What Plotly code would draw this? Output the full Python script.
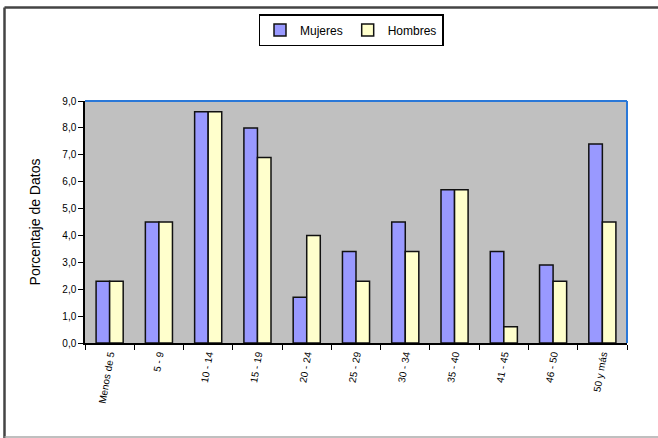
import plotly.graph_objects as go

# Age groups and share of records (%) by sex
categorias = ["Menos de 5", "5 - 9", "10 - 14", "15 - 19", "20 - 24", "25 - 29",
              "30 - 34", "35 - 40", "41 - 45", "46 - 50", "50 y más"]
mujeres = [2.3, 4.5, 8.6, 8.0, 1.7, 3.4, 4.5, 5.7, 3.4, 2.9, 7.4]
hombres = [2.3, 4.5, 8.6, 6.9, 4.0, 2.3, 3.4, 5.7, 0.6, 2.3, 4.5]
y_ticks = [0, 1, 2, 3, 4, 5, 6, 7, 8, 9]
y_tick_text = [f"{v:.1f}".replace(".", ",") for v in y_ticks]

W, H = 658, 438
L, R, T, B = 85, 31, 101, 95
pw, ph = W - L - R, H - T - B


def px_x(px):
    return (px - L) / pw


def px_y(py):
    return (H - B - py) / ph


font = "Liberation Sans, Arial, sans-serif"

fig = go.Figure()
fig.add_trace(go.Bar(name="Mujeres", x=categorias, y=mujeres,
                     marker=dict(color="#9999FF", line=dict(color="#111111", width=1.5))))
fig.add_trace(go.Bar(name="Hombres", x=categorias, y=hombres,
                     marker=dict(color="#FFFFCC", line=dict(color="#111111", width=1.5))))

shapes = [
    # blue top and right edges of the plot area
    dict(type="line", xref="paper", yref="paper", x0=0, x1=1, y0=1, y1=1,
         line=dict(color="#2A78D8", width=2)),
    dict(type="line", xref="paper", yref="paper", x0=1, x1=1, y0=0, y1=1,
         line=dict(color="#2A78D8", width=2)),
    # outer chart frame
    dict(type="line", xref="paper", yref="paper", x0=px_x(4.5), x1=px_x(4.5),
         y0=px_y(7.5), y1=px_y(438), line=dict(color="#444444", width=2.5)),
    dict(type="line", xref="paper", yref="paper", x0=px_x(4.5), x1=px_x(660),
         y0=px_y(7.5), y1=px_y(7.5), line=dict(color="#444444", width=2.5)),
    dict(type="line", xref="paper", yref="paper", x0=px_x(4.5), x1=px_x(660),
         y0=px_y(437), y1=px_y(437), line=dict(color="#AAAAAA", width=1.5)),
]

fig.update_layout(
    width=W, height=H,
    margin=dict(l=L, r=R, t=T, b=B),
    paper_bgcolor="white",
    plot_bgcolor="#C0C0C0",
    barmode="group",
    bargap=0.45,
    bargroupgap=0,
    font=dict(family=font, size=10, color="black"),
    showlegend=True,
    legend=dict(orientation="h", x=px_x(351), xanchor="center",
                y=px_y(14), yanchor="top",
                bordercolor="black", borderwidth=1.5, bgcolor="white",
                font=dict(family=font, size=12), itemwidth=30,
                tracegroupgap=0),
    shapes=shapes,
)

fig.update_xaxes(
    showgrid=False, showline=True, linecolor="black", linewidth=1.5,
    ticks="outside", ticklen=5, tickcolor="black", tickson="boundaries",
    tickangle=-80, tickfont=dict(family=font, size=10),
    mirror=False,
)
fig.update_yaxes(
    range=[0, 9], tickvals=y_ticks, ticktext=y_tick_text,
    showgrid=False, showline=True, linecolor="black", linewidth=1.5,
    ticks="outside", ticklen=5, tickcolor="black",
    tickfont=dict(family=font, size=10),
    title=dict(text="Porcentaje de Datos", font=dict(family=font, size=14), standoff=18),
    zeroline=False,
)

fig.write_html("out.html")
